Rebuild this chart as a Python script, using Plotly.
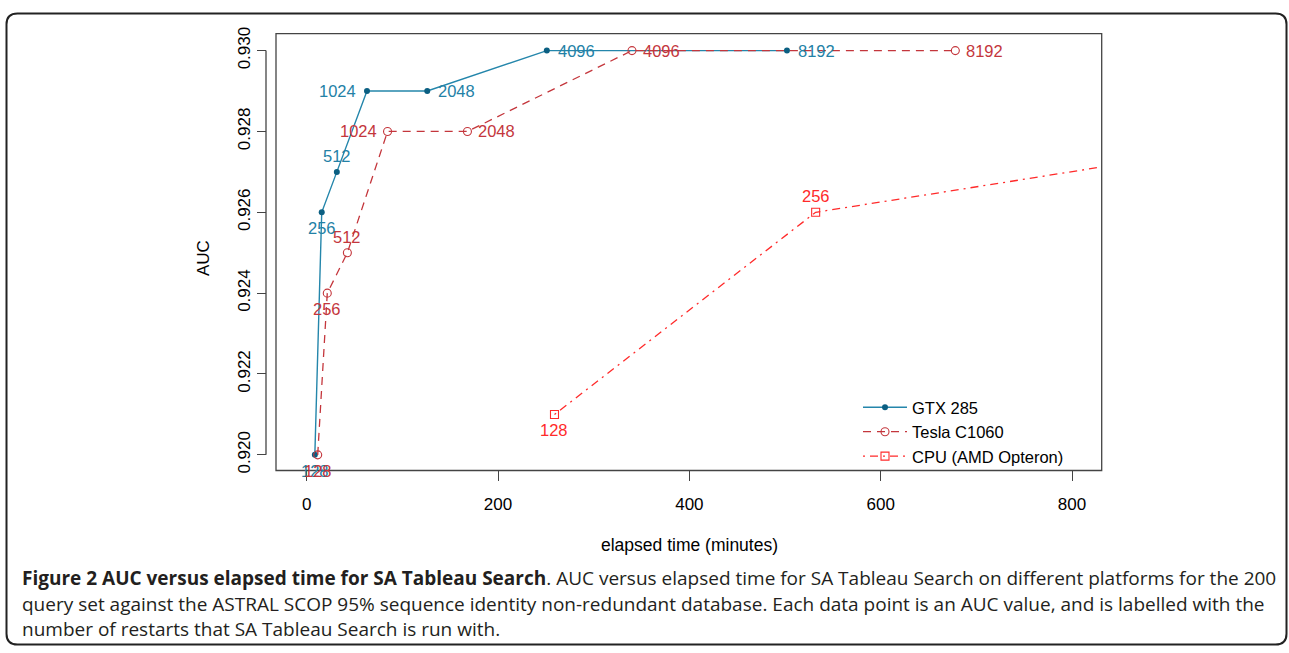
import plotly.graph_objects as go

W, H = 1289, 653

# ---- data ----
gtx_time = [8.5, 15.7, 31.5, 63, 126, 251, 502]
gtx_auc = [0.920, 0.926, 0.927, 0.929, 0.929, 0.930, 0.930]
gtx_lab = ["128", "256", "512", "1024", "2048", "4096", "8192"]
gtx_pos = ["below", "below", "above", "left", "right", "right", "right"]

tesla_time = [11.5, 21.5, 42.5, 84.5, 168, 340, 678]
tesla_auc = [0.920, 0.924, 0.925, 0.928, 0.928, 0.930, 0.930]
tesla_lab = ["128", "256", "512", "1024", "2048", "4096", "8192"]
tesla_pos = ["below", "below", "above", "left", "right", "right", "right"]

cpu_time = [259, 532, 1065]
cpu_auc = [0.921, 0.926, 0.928]
cpu_lab = ["128", "256", "512"]
cpu_pos = ["below", "above", "above"]

x_ticks = [0, 200, 400, 600, 800]
y_ticks = [0.920, 0.922, 0.924, 0.926, 0.928, 0.930]
y_ticklabels = ["0.920", "0.922", "0.924", "0.926", "0.928", "0.930"]

X_RANGE = [-32.1, 831]
Y_RANGE = [0.919613, 0.930421]

C_GTX_LINE = "#2486ab"
C_GTX_MK = "#0b5f82"
C_GTX_TXT = "#2381a6"
C_TESLA = "#c4363c"
C_CPU = "#ff2a2a"

FONT = "Liberation Sans, Arial, sans-serif"


def px_x(p):
    return p / W


def px_y(p):
    return 1 - p / H


# plot box in pixels
BL, BR, BT, BB = 276, 1101.7, 27, 470.7

fig = go.Figure()

fig.add_trace(go.Scatter(
    x=gtx_time, y=gtx_auc, mode="lines+markers", name="GTX 285",
    line=dict(color=C_GTX_LINE, width=1.4),
    marker=dict(symbol="circle", size=6, color=C_GTX_MK),
))
fig.add_trace(go.Scatter(
    x=tesla_time, y=tesla_auc, mode="lines+markers", name="Tesla C1060",
    line=dict(color=C_TESLA, width=1.3, dash="8px,6px"),
    marker=dict(symbol="circle-open", size=8, color=C_TESLA, line=dict(width=1.1)),
))
fig.add_trace(go.Scatter(
    x=cpu_time, y=cpu_auc, mode="lines+markers", name="CPU (AMD Opteron)",
    line=dict(color=C_CPU, width=1.3, dash="2px,5px,8px,5px"),
    marker=dict(symbol="square-open", size=8, color=C_CPU, line=dict(width=1.1)),
))

annotations = []


def add_labels(xs, ys, labs, poss, color):
    for x, y, lab, pos in zip(xs, ys, labs, poss):
        if not (X_RANGE[0] <= x <= X_RANGE[1]):
            continue
        a = dict(x=x, y=y, xref="x", yref="y", text=lab, showarrow=False,
                 font=dict(family=FONT, size=16.5, color=color))
        if pos == "below":
            a.update(xanchor="center", yanchor="middle", yshift=-16)
        elif pos == "above":
            a.update(xanchor="center", yanchor="middle", yshift=16)
        elif pos == "left":
            a.update(xanchor="right", yanchor="middle", xshift=-9)
        else:
            a.update(xanchor="left", yanchor="middle", xshift=9)
        annotations.append(a)


add_labels(gtx_time, gtx_auc, gtx_lab, gtx_pos, C_GTX_TXT)
add_labels(tesla_time, tesla_auc, tesla_lab, tesla_pos, C_TESLA)
add_labels(cpu_time, cpu_auc, cpu_lab, cpu_pos, C_CPU)

shapes = []
# plot box
shapes.append(dict(type="rect", xref="paper", yref="paper",
                   x0=px_x(BL), x1=px_x(BR), y0=px_y(BB), y1=px_y(BT),
                   line=dict(color="#444444", width=1.3), layer="above"))
# y axis line (R style, between first and last tick)
shapes.append(dict(type="line", xref="paper", yref="y",
                   x0=px_x(266), x1=px_x(266), y0=y_ticks[0], y1=y_ticks[-1],
                   line=dict(color="#444444", width=1.3)))
# outer rounded frame
x0, x1, y0, y1 = 6.5, 1286.5, 6.5, 647.5
r = 11
rx, ry = r / W, r / H
X0, X1, Y0, Y1 = px_x(x0), px_x(x1), px_y(y0), px_y(y1)
path = (f"M {X0+rx},{Y0} L {X1-rx},{Y0} Q {X1},{Y0} {X1},{Y0-ry} "
        f"L {X1},{Y1+ry} Q {X1},{Y1} {X1-rx},{Y1} "
        f"L {X0+rx},{Y1} Q {X0},{Y1} {X0},{Y1+ry} "
        f"L {X0},{Y0-ry} Q {X0},{Y0} {X0+rx},{Y0} Z")
shapes.append(dict(type="path", xref="paper", yref="paper", path=path,
                   line=dict(color="#222222", width=2)))

annotations += [
    dict(text="AUC", xref="paper", yref="paper", x=px_x(203), y=px_y(255),
         showarrow=False, textangle=-90, font=dict(family=FONT, size=17, color="black"),
         xanchor="center", yanchor="middle"),
    dict(text="elapsed time (minutes)", xref="paper", yref="paper", x=px_x(689), y=px_y(546),
         showarrow=False, font=dict(family=FONT, size=17.5, color="black"),
         xanchor="center", yanchor="middle"),
]

CAP_FONT = dict(family="Open Sans", size=19, color="#231f20")
cap_lines = [
    "<b>Figure 2 AUC versus elapsed time for SA Tableau Search</b>. AUC versus elapsed time for SA Tableau Search on different platforms for the 200",
    "query set against the ASTRAL SCOP 95% sequence identity non-redundant database. Each data point is an AUC value, and is labelled with the",
    "number of restarts that SA Tableau Search is run with.",
]
for i, line in enumerate(cap_lines):
    annotations.append(dict(text=line, xref="paper", yref="paper", x=px_x(20), y=px_y(580 + 26 * i),
                            showarrow=False, font=CAP_FONT, xanchor="left", yanchor="middle", align="left"))

fig.update_layout(
    width=W, height=H,
    margin=dict(l=0, r=0, t=0, b=0),
    paper_bgcolor="white", plot_bgcolor="white",
    showlegend=True,
    legend=dict(x=px_x(858), y=px_y(389), xanchor="left", yanchor="top",
                font=dict(family=FONT, size=16.5, color="black"),
                bgcolor="rgba(0,0,0,0)", tracegroupgap=0, itemwidth=44),
    xaxis=dict(domain=[px_x(BL), px_x(BR)], range=X_RANGE,
               tickvals=x_ticks, ticks="outside", ticklen=10, tickwidth=1.3, tickcolor="#444444",
               showgrid=False, zeroline=False, showline=False,
               tickfont=dict(family=FONT, size=17, color="black"), ticklabelstandoff=8),
    yaxis=dict(domain=[px_y(BB), px_y(BT)], range=Y_RANGE,
               anchor="free", position=px_x(266),
               tickvals=y_ticks, ticktext=y_ticklabels, tickangle=-90,
               ticks="outside", ticklen=9, tickwidth=1.3, tickcolor="#444444",
               showgrid=False, zeroline=False, showline=False,
               tickfont=dict(family=FONT, size=17, color="black")),
    shapes=shapes, annotations=annotations,
)

fig.write_html("out.html", config={"displayModeBar": False},
               post_script="document.body.style.margin='0';document.body.style.padding='0';")
